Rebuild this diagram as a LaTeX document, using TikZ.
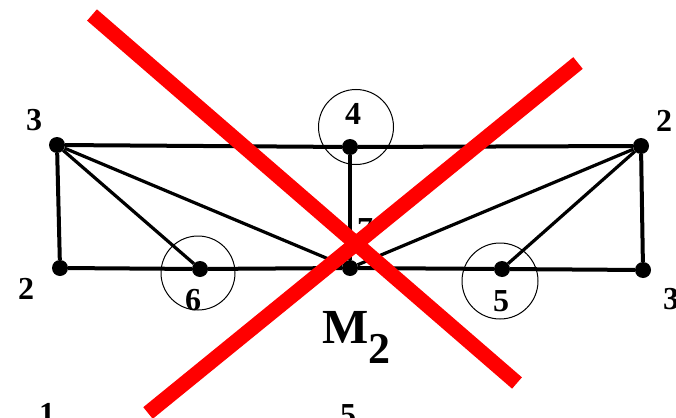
\documentclass[tikz,border=0pt]{standalone}
\usepackage{fontspec}
\setmainfont{Liberation Serif}
\tikzset{
  vertex/.style={circle,fill=black,inner sep=0pt,minimum size=16pt},
  edge/.style={line width=4pt},
  diag/.style={line width=3.2pt},
  lbl/.style={inner sep=0pt,font=\fontsize{32}{32}\selectfont\bfseries},
  ring/.style={line width=1pt},
  cross/.style={red,line width=15pt}
}
\begin{document}
\begin{tikzpicture}[x=1pt,y=-1pt]
        \useasboundingbox (0,0) rectangle (676,417);
        \clip (0,0) rectangle (676,417);

        % Draw vertices
        \node[vertex] (tl) at (57,145) {};
        \node[vertex] (tm) at (350,147) {};
        \node[vertex] (tr) at (641,146) {};
        \node[vertex] (bl) at (60,268) {};
        \node[vertex] (b6) at (200,269) {};
        \node[vertex] (bm) at (350,268) {};
        \node[vertex] (b5) at (502,269) {};
        \node[vertex] (br) at (643,270) {};

        % Draw outer edges
        \draw[edge] (tl) -- (tm) -- (tr) -- (br) -- (b5) -- (bm) -- (b6) -- (bl) -- (tl);
        \draw[edge] (tm) -- (bm);

        % Draw diagonals
        \foreach \a/\b in {tl/b6, tl/bm, tr/b5, tr/bm} {
            \draw[diag] (\a) -- (\b);
        }

        % Draw labels
        \node[lbl] (n3a) at (34,120) {3};
        \node[lbl] (n4) at (353,114) {4};
        \node[lbl] (n2a) at (664,121) {2};
        \node[lbl] (n2b) at (26,289) {2};
        \node[lbl] (n6) at (193,300) {6};
        \node[lbl] (n7) at (365,229) {7};
        \node[lbl] (n5) at (501,301) {5};
        \node[lbl] (n3b) at (671,299) {3};
        \node[lbl] (n1) at (47,414) {1};
        \node[lbl] (n5b) at (348,415) {5};

        % Draw circles
        \draw[ring] (356,127) circle (37.5);
        \draw[ring] (198,273) circle (37);
        \draw[ring] (500,281) circle (38);

        % Draw graph name
        \node[inner sep=0pt,anchor=base west,font=\fontsize{49}{49}\selectfont\bfseries]
            (name) at (322,343) {M\raisebox{-20pt}{\fontsize{44}{44}\selectfont 2}};

        % Draw red cross
        \coordinate (c1) at (92,15);
        \coordinate (c2) at (517,383);
        \coordinate (c3) at (578,63);
        \coordinate (c4) at (148,413);
        \draw[cross] (c1) -- (c2);
        \draw[cross] (c3) -- (c4);
    \end{tikzpicture}
\end{document}
